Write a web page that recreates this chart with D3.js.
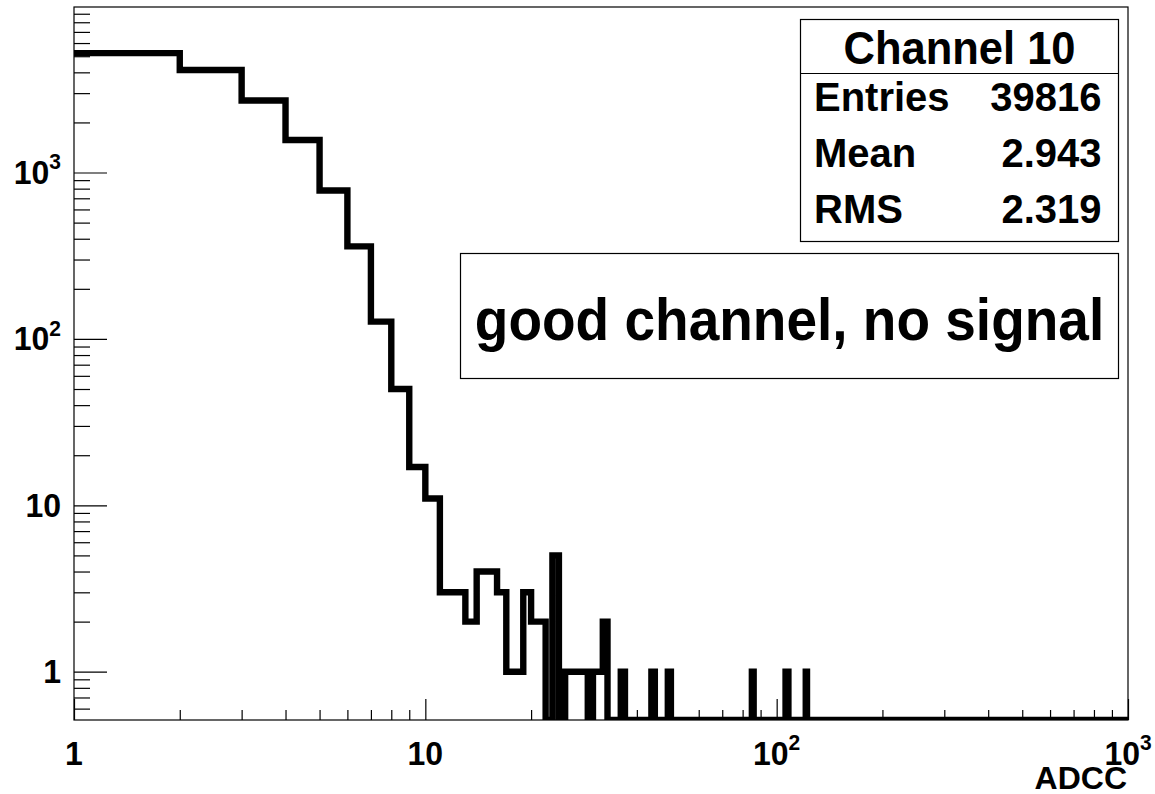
<!DOCTYPE html>
<html>
<head>
<meta charset="utf-8">
<script src="https://cdn.jsdelivr.net/npm/d3@7"></script>
<style>
  html, body { margin: 0; padding: 0; background: #fff; }
  svg { display: block; font-family: "Liberation Sans", Arial, Helvetica, sans-serif; font-weight: bold; }
</style>
</head>
<body>
<svg id="chart" width="1155" height="794"></svg>
<script>
// ADC spectrum of one readout channel: unit-width bins, log-log view.
const firstBin = 1;
const lowCounts = [5220, 4130, 2710, 1570, 780, 360, 127, 50, 17, 11,
                   3, 3, 2, 4, 4, 3, 1, 1, 3, 2,
                   2, 0, 5, 0, 1, 1, 1, 1, 0, 1,
                   1, 2];
const tailBins = [36, 44, 49, 85, 106, 107, 121];
const tailCounts = [1, 1, 1, 1, 1, 1, 1];
const lastEdge = 1000;

const xMajor = [1, 10, 100, 1000];
const xMajorLabels = [["1", ""], ["10", ""], ["10", "2"], ["10", "3"]];
const yMajor = [1, 10, 100, 1000];
const yMajorLabels = [["1", ""], ["10", ""], ["10", "2"], ["10", "3"]];

const statTitle = "Channel 10";
const statNames = ["Entries", "Mean", "RMS"];
const statValues = ["39816", "2.943", "2.319"];
const noteText = "good channel, no signal";
const xTitle = "ADCC";

// ---- frame and scales
const F = { left: 74, right: 1128, top: 7, bottom: 720 };
const yMin = 0.5126, yMax = 9880;
const x = d3.scaleLog().domain([1, lastEdge]).range([F.left, F.right]);
const y = d3.scaleLog().domain([yMin, yMax]).range([F.bottom, F.top]);

const svg = d3.select("#chart");

// ---- full bin table
const bins = [];
for (let lo = firstBin; lo < lastEdge; lo++) bins.push({ lo, hi: lo + 1, n: 0 });
lowCounts.forEach((n, i) => { bins[i].n = n; });
tailBins.forEach((b, i) => { bins[b - firstBin].n = tailCounts[i]; });

// ---- minor tick values per decade
function minorTicks(domain) {
  const out = [];
  for (let d = 0.1; d <= 1000; d *= 10) {
    for (let k = 2; k <= 9; k++) {
      const v = +(k * d).toPrecision(3);
      if (v >= domain[0] && v <= domain[1]) out.push(v);
    }
  }
  return out;
}

// ---- clip for histogram
svg.append("defs").append("clipPath").attr("id", "frameClip")
  .append("rect")
  .attr("x", F.left).attr("y", F.top)
  .attr("width", F.right - F.left).attr("height", F.bottom - F.top);

// ---- histogram outline (empty bins sit on the lower edge of the frame)
const pts = [];
bins.forEach((b, i) => {
  const yy = y(Math.max(b.n, yMin));
  if (i === 0) pts.push([x(b.lo), yy]);
  else pts.push([x(b.lo), pts[pts.length - 1][1]], [x(b.lo), yy]);
  if (i === bins.length - 1) pts.push([x(b.hi), yy]);
});
svg.append("path")
  .attr("clip-path", "url(#frameClip)")
  .attr("d", d3.line()(pts))
  .attr("fill", "none")
  .attr("stroke", "#000")
  .attr("stroke-width", 6.4)
  .attr("stroke-linejoin", "miter");

// ---- axes (ticks point into the frame)
const yAxisMajor = d3.axisLeft(y).tickValues(yMajor).tickSize(-33).tickSizeOuter(0).tickFormat("");
const yAxisMinor = d3.axisLeft(y).tickValues(minorTicks(y.domain())).tickSize(-16).tickSizeOuter(0).tickFormat("");
const xAxisMajor = d3.axisBottom(x).tickValues(xMajor).tickSize(-21).tickSizeOuter(0).tickFormat("");
const xAxisMinor = d3.axisBottom(x).tickValues(minorTicks(x.domain())).tickSize(-10).tickSizeOuter(0).tickFormat("");

[yAxisMajor, yAxisMinor].forEach(a => {
  const g = svg.append("g").attr("transform", `translate(${F.left},0)`).call(a);
  g.select(".domain").remove();
  g.selectAll("line").attr("stroke", "#000").attr("stroke-width", 1.2);
});
[xAxisMajor, xAxisMinor].forEach(a => {
  const g = svg.append("g").attr("transform", `translate(0,${F.bottom})`).call(a);
  g.select(".domain").remove();
  g.selectAll("line").attr("stroke", "#000").attr("stroke-width", 1.2);
});

// ---- frame
svg.append("rect")
  .attr("x", F.left).attr("y", F.top)
  .attr("width", F.right - F.left).attr("height", F.bottom - F.top)
  .attr("fill", "none").attr("stroke", "#000").attr("stroke-width", 1.2);

// text helper: anchored at (tx, ty), optionally stretched vertically
function label(tx, ty, size, anchor, sy) {
  return svg.append("g")
    .attr("transform", `translate(${tx},${ty}) scale(1,${sy || 1})`)
    .append("text")
    .attr("text-anchor", anchor || "start")
    .attr("font-size", size);
}

// ---- axis labels with power-of-ten superscripts
const labFs = 32, supFs = 21;
function powerLabel(t, base, sup) {
  t.append("tspan").text(base);
  if (sup) t.append("tspan").attr("font-size", supFs).attr("dy", -14).text(sup);
}
yMajor.forEach((v, i) => {
  const t = label(61, y(v) + 0.36 * labFs, labFs, "end", 1.04);
  powerLabel(t, yMajorLabels[i][0], yMajorLabels[i][1]);
});
xMajor.forEach((v, i) => {
  const t = label(x(v), 765, labFs, "middle", 1.04);
  powerLabel(t, xMajorLabels[i][0], xMajorLabels[i][1]);
});
label(1127, 788.5, 32, "end", 1.0).text(xTitle);

// ---- statistics box
const S = { x: 800.5, y: 19.5, w: 318, h: 222, sep: 73.5 };
svg.append("rect").attr("x", S.x).attr("y", S.y).attr("width", S.w).attr("height", S.h)
  .attr("fill", "#fff").attr("stroke", "#000").attr("stroke-width", 1.2);
svg.append("line").attr("x1", S.x).attr("x2", S.x + S.w).attr("y1", S.sep).attr("y2", S.sep)
  .attr("stroke", "#000").attr("stroke-width", 1.2);
label(S.x + S.w / 2, 63.5, 43.5, "middle", 1.05).text(statTitle);
const rowY = [110.5, 167, 223];
statNames.forEach((nm, i) => {
  label(814, rowY[i], 40, "start", 1.0).text(nm);
  label(1101.5, rowY[i], 40, "end", 1.0).text(statValues[i]);
});

// ---- note box
const N = { x: 460.5, y: 253.5, w: 658, h: 125 };
svg.append("rect").attr("x", N.x).attr("y", N.y).attr("width", N.w).attr("height", N.h)
  .attr("fill", "#fff").attr("stroke", "#000").attr("stroke-width", 1.2);
label(N.x + N.w / 2, 339.5, 55, "middle", 1.08).text(noteText);
</script>
</body>
</html>
